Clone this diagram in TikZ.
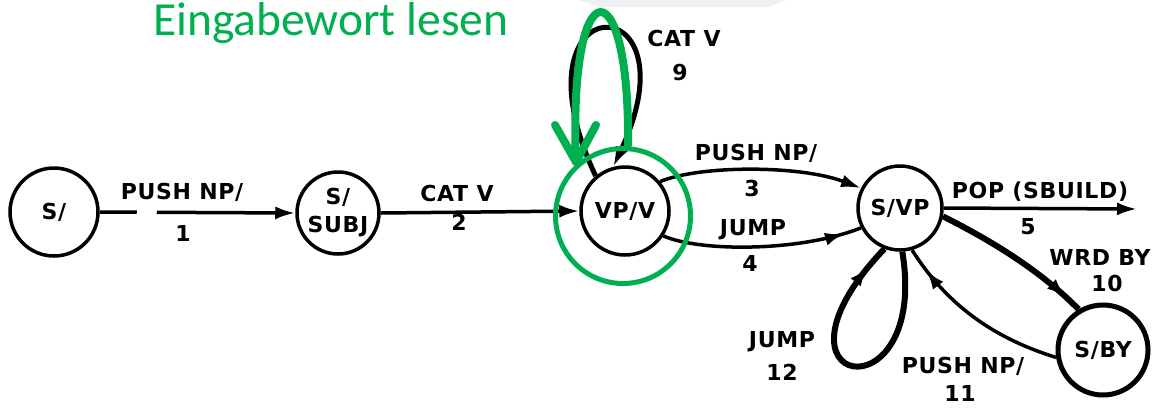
\documentclass[tikz,border=0pt]{standalone}
\usepackage{fontspec}
\newfontfamily\lblfont[LetterSpace=3]{DejaVu Sans}
\newfontfamily\notefont{Carlito}
\usetikzlibrary{arrows.meta,decorations.markings}
\definecolor{markgreen}{HTML}{00B050}
\begin{document}
\begin{tikzpicture}[x=1pt,y=-1pt,
  state/.style={circle, draw, line width=3.5pt, inner sep=0pt, align=center,
    font=\lblfont\bfseries\fontsize{22}{28}\selectfont},
  lbl/.style={inner sep=0pt, font=\lblfont\bfseries\fontsize{22}{24}\selectfont},
  edge/.style={line width=3.5pt, -{Latex[length=20pt,width=13pt]}},
  tipnear/.style={line width=3.5pt, postaction={decorate},
    decoration={markings, mark=at position #1 with {\arrow{Latex[length=19pt,width=13pt]}}}},
  greenline/.style={draw=markgreen, line width=8pt, line cap=round, line join=round}
]
\useasboundingbox (0,0) rectangle (1155,408);
\fill[white] (0,0) rectangle (1155,408);
% light band along the top edge
\fill[gray!12] (577,0) -- (787,0) -- (767,7) -- (603,7) -- cycle;

% states
\node[state, minimum size=88pt] (s0)   at (54,212)  {S/};
\node[state, minimum size=82pt] (subj) at (338,213) {S/\\SUBJ};
\node[state, minimum size=88pt] (vpv)  at (625,211) {VP/V};
\node[state, minimum size=84pt] (svp)  at (900,208) {S/VP};
\node[state, minimum size=90pt, line width=5pt] (sby) at (1103,350) {S/BY};
\coordinate (popend) at (1137,209);

% arcs
\draw[edge, dash pattern=on 37pt off 20pt on 400pt off 0pt] (s0.east) -- (subj.west);
\draw[edge] (subj.east) -- (vpv.west);
\draw[edge, line width=5pt] (vpv.130) .. controls (505,-18) and (700,-18) .. (vpv.105);
\draw[edge] (vpv.40) .. controls (700,165) and (800,165) .. (svp.153);
\draw[tipnear=-18pt] (vpv.-33) .. controls (700,252) and (800,252) .. (svp.-153);
\draw[edge] (svp.east) -- (popend);
\draw[tipnear=-18pt, line width=6pt] (svp.-11) .. controls (990,240) and (1040,270) .. (sby.121);
\draw[tipnear=-25pt] (sby.189) .. controls (1000,340) and (950,310) .. (svp.-74);
\draw[tipnear=-25pt, line width=6pt] (svp.-87) .. controls (930,420) and (750,390) .. (svp.-111);

% arc labels
\node[lbl] (t1)  at (182,192) {PUSH NP/};
\node[lbl] (n1)  at (183,233) {1};
\node[lbl] (t2)  at (457,193) {CAT V};
\node[lbl] (n2)  at (459,222) {2};
\node[lbl] (t3)  at (756,153) {PUSH NP/};
\node[lbl] (n3)  at (752,188) {3};
\node[lbl] (t4)  at (753,230) {JUMP};
\node[lbl] (n4)  at (750,263) {4};
\node[lbl] (t5)  at (1040,192) {POP (SBUILD)};
\node[lbl] (n5)  at (1028,227) {5};
\node[lbl] (t9)  at (684,38) {CAT V};
\node[lbl] (n9)  at (680,72) {9};
\node[lbl] (t10) at (1100,257) {WRD BY};
\node[lbl] (n10) at (1107,283) {10};
\node[lbl] (t11) at (963,366) {PUSH NP/};
\node[lbl] (n11) at (960,393) {11};
\node[lbl] (t12) at (782,342) {JUMP};
\node[lbl] (n12) at (782,372) {12};

% green annotation
\node[circle, draw=markgreen, line width=5pt, minimum size=135pt] (focus) at (623,216) {};
\node[anchor=base west, inner sep=0pt, text=markgreen,
      font=\notefont\fontsize{47.5}{52}\selectfont] (note) at (153,35) {Eingabewort lesen};
\coordinate (gstart) at (628,145);
\coordinate (gtip) at (576,162);
\draw[greenline] (gstart) .. controls (630,-35) and (568,-35) .. (gtip);
\draw[greenline] (555,125) -- (gtip) -- (596,125);
\end{tikzpicture}
\end{document}
